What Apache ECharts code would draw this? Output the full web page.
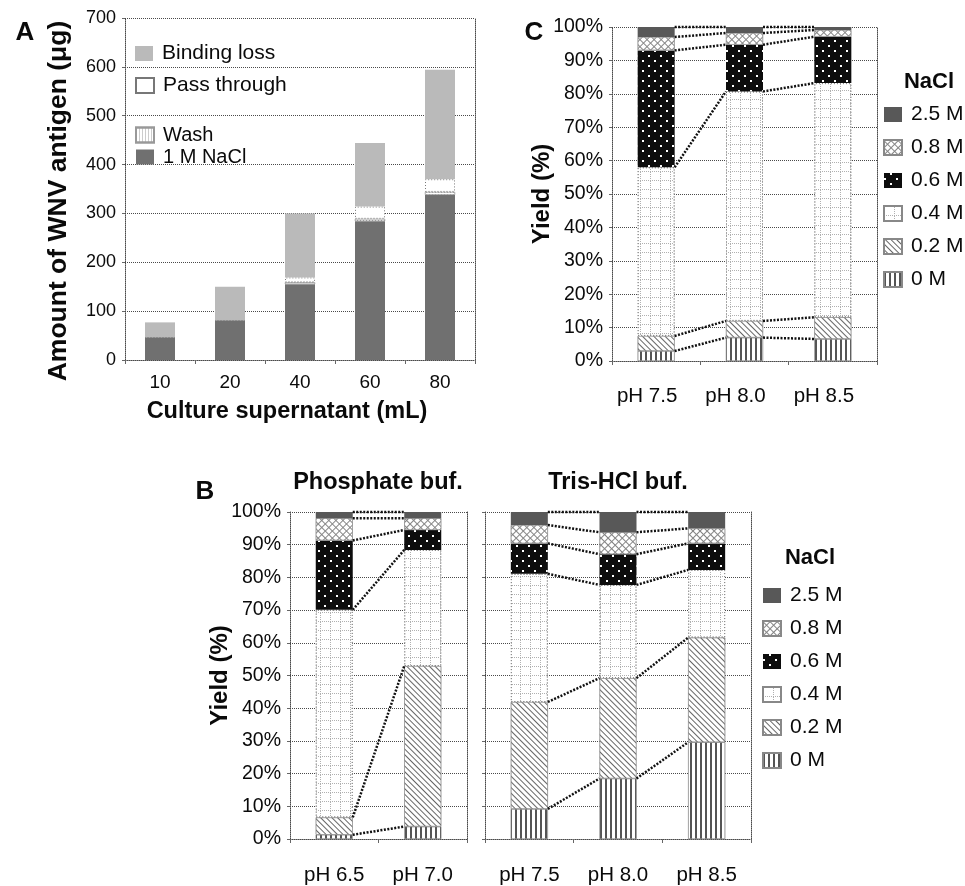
<!DOCTYPE html>
<html><head><meta charset="utf-8">
<script src="https://cdn.jsdelivr.net/npm/echarts@6/dist/echarts.min.js"></script>
<style>html,body{margin:0;padding:0;background:#fff}#c{width:965px;height:886px}</style>
</head><body><div id="c"></div>
<script>
// ---------- Panel A data ----------
const aCategories = ['10', '20', '40', '60', '80'];
const aNaCl1M   = [46, 81, 155, 284, 338];
const aWash     = [1, 1, 4, 5, 6];
const aPass     = [0, 0, 10, 25, 26];
const aBinding  = [30, 68, 131, 130, 224];

// ---------- NaCl levels (bottom -> top) ----------
const naclLevels = ['0 M', '0.2 M', '0.4 M', '0.6 M', '0.8 M', '2.5 M'];
const naclLegendOrder = ['2.5 M', '0.8 M', '0.6 M', '0.4 M', '0.2 M', '0 M'];

// ---------- Panel B (Phosphate) : % per level, bottom -> top ----------
const bPhosCats = ['pH 6.5', 'pH 7.0'];
const bPhos65 = [1.3, 5.3, 63.5, 21.2, 6.8, 1.9];
const bPhos70 = [3.8, 49.1, 35.5, 6.1, 3.6, 1.9];

// ---------- Panel B (Tris-HCl) ----------
const bTrisCats = ['pH 7.5', 'pH 8.0', 'pH 8.5'];
const bTris75 = [9.2, 32.7, 39.2, 9.3, 5.6, 4.0];
const bTris80 = [18.5, 30.7, 28.5, 9.4, 6.7, 6.2];
const bTris85 = [29.6, 32.0, 20.7, 8.1, 4.6, 5.0];

// ---------- Panel C ----------
const cCats = ['pH 7.5', 'pH 8.0', 'pH 8.5'];
const c75 = [3.0, 4.5, 50.5, 35.0, 4.0, 3.0];
const c80 = [7.0, 5.0, 68.7, 14.0, 3.5, 1.8];
const c85 = [6.6, 6.5, 70.1, 13.9, 2.0, 0.9];

// ---------- styles ----------
const FONT = 'Liberation Sans, Arial, sans-serif';
const TXT = '#0a0a0a';
const dotLine = { color: '#4a4a4a', type: [1, 1], width: 1 };

const levelStyles = {
  '0 M':   { color: '#ffffff', borderColor: '#888', borderWidth: 0.5,
             decal: { symbol: 'rect', symbolSize: 1, symbolKeepAspect: false, color: '#555', dashArrayX: [[2, 3]], dashArrayY: [5, 0] } },
  '0.2 M': { color: '#ffffff', borderColor: '#888', borderWidth: 0.5,
             decal: { symbol: 'rect', symbolSize: 1, symbolKeepAspect: false, color: '#666', dashArrayX: [[1, 3]], dashArrayY: [4, 0], rotation: -Math.PI / 4 } },
  '0.4 M': { color: '#ffffff', borderColor: '#888', borderWidth: 1, borderType: [1, 2],
             decal: { symbol: 'rect', symbolSize: 1, symbolKeepAspect: false, color: '#b0b0b0',
                      dashArrayX: [[1, 1], [1, 9], [1, 9], [1, 9], [1, 9]], dashArrayY: [1, 0, 1, 1, 1, 1, 1, 1, 1, 1] } },
  '0.6 M': { color: '#0d0d0d', decal: { symbol: 'rect', symbolSize: 1, symbolKeepAspect: false, color: '#ffffff', dashArrayX: [[2, 10], [0, 6, 2, 4]], dashArrayY: [2, 3] } },
  '0.8 M': { color: '#ffffff', borderColor: '#888', borderWidth: 0.5,
             decal: { symbol: 'rect', symbolSize: 1, symbolKeepAspect: false, color: '#858585', dashArrayX: [[5, 0], [1, 4]], dashArrayY: [1, 0, 4, 0], rotation: Math.PI / 4 } },
  '2.5 M': { color: '#585858' }
};

const aStyles = {
  '1 M NaCl':     { color: '#707070' },
  'Wash':         { color: '#ffffff', borderColor: '#999', borderWidth: 0.5,
                    decal: { symbol: 'rect', symbolSize: 1, symbolKeepAspect: false, color: '#999', dashArrayX: [[1, 2]], dashArrayY: [1, 1] } },
  'Pass through': { color: '#ffffff', borderColor: '#777', borderWidth: 1, borderType: [1, 2] },
  'Binding loss': { color: '#bababa' }
};

// ---------- grids ----------
const grids = [
  { left: 125, top: 18, width: 350, height: 342 },   // A
  { left: 290, top: 512, width: 177, height: 328 },  // B phosphate
  { left: 485, top: 512, width: 266, height: 328 },  // B tris
  { left: 612, top: 27, width: 265, height: 334 }    // C
];

function xAx(gi, cats, fs, margin, name, nameGap, labelPad) {
  return {
    type: 'category', gridIndex: gi, data: cats,
    axisLine: { lineStyle: dotLine },
    axisTick: { show: true, length: 4, lineStyle: { color: '#666' } },
    axisLabel: { fontSize: fs, color: TXT, fontFamily: FONT, margin: margin, padding: labelPad || 0 },
    name: name || '', nameLocation: 'middle', nameGap: nameGap || 0, nameMoveOverlap: false,
    nameTextStyle: { fontSize: 23.5, fontWeight: 'bold', color: TXT, fontFamily: FONT, padding: [0, 26, 0, 0] }
  };
}
function yAx(gi, max, interval, fmt, name, nameGap, nameSize, fs, namePad) {
  return {
    type: 'value', gridIndex: gi, min: 0, max: max, interval: interval,
    axisLine: { show: true, lineStyle: dotLine },
    axisTick: { show: true, length: 3, lineStyle: { color: '#666' } },
    splitLine: { show: true, lineStyle: dotLine },
    axisLabel: { fontSize: fs, color: TXT, fontFamily: FONT, margin: 9, formatter: fmt },
    name: name, nameLocation: 'middle', nameGap: nameGap, nameRotate: 90, nameMoveOverlap: false,
    nameTextStyle: { fontSize: nameSize, fontWeight: 'bold', color: TXT, fontFamily: FONT, padding: namePad || 0 }
  };
}
function yRight(gi, max) {
  return {
    type: 'value', gridIndex: gi, min: 0, max: max, position: 'right',
    axisLine: { show: true, lineStyle: dotLine }, axisTick: { show: false },
    axisLabel: { show: false }, splitLine: { show: false }
  };
}

const xAxes = [
  xAx(0, aCategories, 19, 13, 'Culture supernatant (mL)', 40),
  xAx(1, bPhosCats, 20.5, 26),
  xAx(2, bTrisCats, 20.5, 26),
  xAx(3, cCats, 20.5, 25, '', 0, [0, 18, 0, 0])
];
const yAxes = [
  yAx(0, 700, 100, '{value}', 'Amount of WNV antigen (μg)', 53, 26.5, 18, [0, 24, 0, 0]),
  yAx(1, 100, 10, '{value}%', 'Yield (%)', 58, 24, 19.5),
  yAx(2, 100, 10, '', '', 0, 24, 19.5),
  yAx(3, 100, 10, '{value}%', 'Yield (%)', 58, 24, 19.5),
  yRight(0, 700), yRight(1, 100), yRight(2, 100), yRight(3, 100)
];
yAxes[2].axisLabel.show = false;

const series = [];

// Panel A series
[['1 M NaCl', aNaCl1M], ['Wash', aWash], ['Pass through', aPass], ['Binding loss', aBinding]].forEach(([nm, arr]) => {
  series.push({ type: 'bar', name: nm, xAxisIndex: 0, yAxisIndex: 0, stack: 'A', barWidth: 30,
    itemStyle: aStyles[nm], data: arr, emphasis: { disabled: true } });
});

const BARW = 37;
function seriesLineRender(params, api) {
  const i = api.value(0);
  const p1 = api.coord([i, api.value(1)]);
  const p2 = api.coord([i + 1, api.value(2)]);
  return {
    type: 'line',
    shape: { x1: p1[0] + BARW / 2, y1: p1[1], x2: p2[0] - BARW / 2, y2: p2[1] },
    style: { stroke: '#111', lineWidth: 2.5, lineDash: [2, 1.5] }
  };
}

function addPanel(gi, cats, rows, stackId) {
  naclLevels.forEach((lv, li) => {
    series.push({ type: 'bar', name: lv, xAxisIndex: gi, yAxisIndex: gi, stack: stackId, barWidth: BARW,
      itemStyle: levelStyles[lv], data: rows.map(r => r[li]), emphasis: { disabled: true } });
  });
  const cum = rows.map(r => { let s = 0; return r.map(v => (s += v)); });
  const lines = [];
  for (let ci = 0; ci < rows.length - 1; ci++) {
    for (let li = 0; li < naclLevels.length; li++) {
      lines.push([ci, cum[ci][li], cum[ci + 1][li]]);
    }
  }
  series.push({ type: 'custom', name: 'series lines ' + stackId, xAxisIndex: gi, yAxisIndex: gi,
    renderItem: seriesLineRender, encode: { x: 0, y: [1, 2] }, data: lines, z: 5, silent: true });
}
addPanel(1, bPhosCats, [bPhos65, bPhos70], 'B1');
addPanel(2, bTrisCats, [bTris75, bTris80, bTris85], 'B2');
addPanel(3, cCats, [c75, c80, c85], 'C');

function legendBlock(names, left, top, gap, fs) {
  return { data: names, left: left, top: top, orient: 'vertical', itemGap: gap, itemWidth: 18, itemHeight: 15,
    padding: 0, icon: 'rect', selectedMode: false,
    textStyle: { fontSize: fs, color: TXT, fontFamily: FONT, padding: [0, 0, 0, 4] } };
}

const titleStyle = (fs) => ({ fontSize: fs, fontWeight: 'bold', color: TXT, fontFamily: FONT });
const titles = [
  { text: 'A', left: 25, top: 33, textStyle: titleStyle(26) },
  { text: 'B', left: 205, top: 492, textStyle: titleStyle(26) },
  { text: 'C', left: 534, top: 33, textStyle: titleStyle(26) },
  { text: 'Phosphate buf.', left: 378, top: 483, textStyle: titleStyle(23.5) },
  { text: 'Tris-HCl buf.', left: 618, top: 483, textStyle: titleStyle(23.5) },
  { text: 'NaCl', left: 810, top: 558, textStyle: titleStyle(22) },
  { text: 'NaCl', left: 929, top: 82, textStyle: titleStyle(22) }
].map(t => Object.assign({ padding: 0, textAlign: 'center', textVerticalAlign: 'middle' }, t));

const option = {
  backgroundColor: '#fff',
  animation: false,
  title: titles,
  grid: grids,
  xAxis: xAxes,
  yAxis: yAxes,
  legend: [
    legendBlock(['Binding loss'], 135, 43, 10, 21),
    legendBlock(['Pass through'], 135, 75, 10, 21),
    legendBlock(['Wash', '1 M NaCl'], 135, 125, 2, 20),
    legendBlock(naclLegendOrder, 762, 585, 12, 21),
    legendBlock(naclLegendOrder, 883, 104, 12, 21)
  ],
  series: series
};

const chart = echarts.init(document.getElementById('c'), null, { renderer: 'canvas' });
chart.setOption(option);
</script>
</body></html>
